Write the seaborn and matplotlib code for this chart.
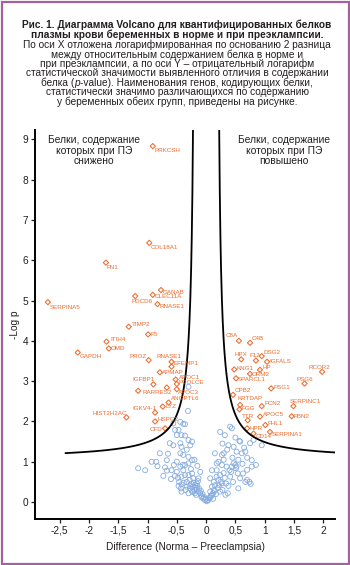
import numpy as np
import pandas as pd
import matplotlib
matplotlib.use('Agg')
import matplotlib.pyplot as plt
import seaborn as sns
from matplotlib.patches import Rectangle

# --- data ---
sig_genes = ['PRKCSH', 'COL18A1', 'FN1', 'GANAB', 'CLEC11A', 'PDCD6', 'RNASE1',
             'SERPINA5', 'TIMP2', 'F5', 'ITIH4', 'OMD', 'GAPDH', 'PROZ', 'RNASE1',
             'EFEMP1', 'APMAP', 'APOC1', 'PCOLCE', 'IGFBP1', '', 'RARRES2', 'APOC3',
             'ANGPTL6', 'LYZ', 'IGKV4-1', 'HIST2H2AC', 'HSPG2', 'CFD',
             'C8A', 'C4B', 'DSG2', 'HPX', 'F12', 'IGFALS', 'KNG1', 'HP', 'ORM2',
             'SPARCL1', 'RCOR2', 'PSG6', 'PSG1', 'CPB2', 'KRTDAP', 'FCN2', 'SERPINC1',
             'FGG', 'APOC5', 'FBN2', 'TTR', 'FHL1', 'HPR', 'SERPINA1', 'CD14']
sig_x = [-0.91, -0.97, -1.71, -0.77, -0.91, -1.21, -0.83,
         -2.70, -1.32, -0.99, -1.70, -1.66, -2.19, -0.98, -0.59,
         -0.59, -0.79, -0.52, -0.50, -0.90, -1.16, -0.67, -0.50,
         -0.64, -0.74, -0.87, -1.36, -0.87, -0.70,
         0.56, 0.75, 0.95, 0.60, 0.85, 1.04, 0.48, 0.92, 0.75,
         0.51, 1.98, 1.68, 1.11, 0.46, 0.58, 0.95, 1.49,
         0.57, 0.92, 1.46, 0.71, 1.01, 0.70, 1.09, 0.81]
sig_y = [8.83, 6.43, 5.94, 5.26, 5.14, 5.11, 4.91,
         4.96, 4.35, 4.16, 3.98, 3.81, 3.71, 3.52, 3.48,
         3.36, 3.22, 3.04, 2.93, 2.92, 2.76, 2.84, 2.80,
         2.47, 2.37, 2.22, 2.10, 2.00, 1.83,
         4.00, 3.95, 3.62, 3.54, 3.51, 3.48, 3.29, 3.28, 3.18,
         3.07, 3.23, 2.94, 2.82, 2.66, 2.41, 2.38, 2.38,
         2.30, 2.12, 2.13, 2.03, 1.91, 1.83, 1.74, 1.70]

bg_x = [-1.16, -1.04, -0.85, -0.83, -0.73, -0.67, -0.59, -0.55, -0.53, -0.60,
        -0.44, -0.40, -0.36, -0.30, -0.42, -0.46, -0.42, -0.43, -0.42, -0.33,
        -0.30, -0.24, -0.22, -0.33, -0.27, -0.23, -0.19, -0.16, -0.13, -0.10,
        -0.07, -0.05, -0.02, 0.01, 0.04, 0.07, 0.10, 0.07, 0.13, 0.10,
        0.13, 0.15, 0.18, 0.21, 0.24, 0.27, 0.24, 0.18, 0.21, 0.27,
        0.35, 0.34, 0.37, 0.41, 0.46, 0.50, 0.51, 0.54, 0.55, 0.58,
        0.63, 0.67, 0.70, 0.74, 0.76, 0.78, 0.47, 0.40, 0.07, 0.10,
        0.18, -0.10, -0.13, -0.16, -0.24, -0.19, -0.30, -0.36, -0.39, -0.70,
        -0.50, -0.44, -0.39, -0.47, -0.42, -0.50, -0.62, -0.56, -0.44, -0.42,
        -0.30, -0.27, -0.24, -0.44, -0.39, -0.79, -0.67, -0.30, -0.24, 0.24,
        0.32, 0.41, 0.44, 0.38, 0.30, 0.27, 0.47, 0.52, 0.58, 0.61,
        0.67, 0.75, 0.81, 0.95, 0.78, 0.52, 0.15, 0.44, -0.30, -0.31,
        -0.36, -0.56, -0.53, 0.57, -0.93, -0.20, -0.18, -0.15, -0.12, -0.09,
        -0.06, -0.03, 0.00, 0.02, 0.05, 0.08, 0.12, 0.15, 0.20, 0.22,
        0.25, -0.25, -0.28, -0.21, 0.28, 0.32, 0.38, 0.43, -0.48, -0.38,
        -0.35, 0.30, -0.20, -0.15, -0.26, 0.55, 0.62, 0.70, -0.22, -0.17,
        -0.08, 0.12, 0.17, -0.28, -0.14, 0.30, 0.33, -0.47, -0.50, 0.45,
        0.36, -0.33, -0.36, 0.28, 0.50, 0.65, -0.65, 0.85, 0.70]
bg_y = [0.84, 0.79, 1.00, 0.89, 0.65, 0.78, 0.79, 0.92, 0.65, 0.57,
        0.88, 0.92, 0.92, 0.96, 0.63, 0.50, 0.44, 0.34, 0.26, 0.50,
        0.67, 0.71, 0.59, 0.38, 0.34, 0.38, 0.42, 0.31, 0.26, 0.22,
        0.15, 0.09, 0.05, 0.02, 0.05, 0.11, 0.17, 0.26, 0.30, 0.38,
        0.50, 0.42, 0.63, 0.55, 0.67, 0.46, 0.26, 0.96, 1.00, 0.92,
        0.88, 0.46, 0.22, 0.63, 0.50, 0.92, 0.84, 0.71, 0.34, 0.59,
        0.71, 0.50, 0.55, 0.50, 0.45, 0.88, 0.96, 0.79, 0.59, 0.79,
        0.79, 0.75, 0.59, 0.46, 0.26, 0.22, 0.22, 0.67, 0.79, 0.86,
        1.00, 1.99, 1.94, 1.79, 1.66, 1.66, 1.46, 1.41, 1.46, 1.37,
        1.54, 1.41, 1.50, 1.21, 1.17, 1.21, 1.04, 1.12, 1.04, 1.74,
        1.66, 1.87, 1.83, 1.41, 1.21, 1.17, 1.37, 1.25, 1.50, 1.21,
        1.25, 1.46, 1.54, 1.41, 1.04, 0.88, 1.21, 0.88, 2.86, 2.26,
        1.93, 1.95, 1.79, 1.52, 1.00, 0.30, 0.36, 0.40, 0.33, 0.28,
        0.20, 0.12, 0.08, 0.04, 0.10, 0.16, 0.22, 0.28, 0.35, 0.42,
        0.50, 0.45, 0.55, 0.48, 0.30, 0.60, 0.40, 0.75, 0.60, 0.48,
        0.30, 1.05, 1.05, 0.90, 0.82, 1.05, 0.95, 0.80, 0.25, 0.18,
        0.12, 0.08, 0.20, 0.40, 0.52, 0.72, 0.18, 0.40, 0.75, 1.10,
        1.30, 1.30, 1.65, 1.45, 1.60, 1.35, 1.20, 0.92, 1.10]

x_ticks = [-2.5, -2, -1.5, -1, -0.5, 0, 0.5, 1, 1.5, 2]
y_ticks = list(range(10))

# threshold curve parameters: y = y0 + c / (|x| - x0)
curve_x0, curve_c, curve_y0 = 0.18, 0.356, 1.054

# label placement (offset in pixels, alignment), same order as sig_genes
label_pos = [(1.5, -4, 'left'), (1.5, -4.5, 'left'), (1, -4.5, 'left'), (2, -2, 'left'),
             (2, -2, 'left'), (-4, -5.5, 'left'), (2, -2, 'left'), (2, -5, 'left'),
             (3, 2.5, 'left'), (2, 0, 'left'), (4, 2, 'left'), (2, 0, 'left'),
             (1.5, -3.5, 'left'), (-2, 4, 'right'), (-3, 5, 'center'), (2, 3, 'left'),
             (2, 0, 'left'), (3, 2, 'left'), (2, 1, 'left'), (1, 4.5, 'right'),
             (0, 0, 'left'), (5, -5, 'right'), (1, -3.5, 'left'), (2.5, 4, 'left'),
             (3, 0, 'left'), (1, 4.5, 'right'), (0, 4, 'right'), (2, 2, 'left'),
             (-3, -1.5, 'right'),
             (-1.5, 5, 'right'), (2, 4, 'left'), (2, 4, 'left'), (0, 4.5, 'center'),
             (-1, 5.5, 'center'), (2, 0, 'left'), (2, 1, 'left'), (2.5, 2, 'left'),
             (2, -0.5, 'left'), (2, -1, 'left'), (-3, 4.5, 'center'), (0, 4, 'center'),
             (2, 0.5, 'left'), (2, 4, 'left'), (-3, 6, 'left'), (2.5, 2.5, 'left'),
             (-4, 5, 'left'), (2.5, 0.5, 'left'), (2.5, 2.5, 'left'), (2, -0.5, 'left'),
             (0, 4, 'center'), (2, 2, 'left'), (2, 0, 'left'), (2, -3, 'left'),
             (2, -2.5, 'left')]

# caption: each line is a list of (text, weight, style) pieces
title_lines = [
    [("Рис. 1. Диаграмма Volcano для квантифицированных белков", 'bold', 'normal')],
    [("плазмы крови беременных в норме и при преэклампсии.", 'bold', 'normal')],
    [("По оси X отложена логарифмированная по основанию 2 разница", 'normal', 'normal')],
    [("между относительным содержанием белка в норме и", 'normal', 'normal')],
    [("при преэклампсии, а по оси Y – отрицательный логарифм", 'normal', 'normal')],
    [("статистической значимости выявленного отличия в содержании", 'normal', 'normal')],
    [("белка (", 'normal', 'normal'), ("p", 'normal', 'italic'),
     ("-value). Наименования генов, кодирующих белки,", 'normal', 'normal')],
    [("статистически значимо различающихся по содержанию", 'normal', 'normal')],
    [("у беременных обеих групп, приведены на рисунке.", 'normal', 'normal')],
]
title_y_px = [25, 35, 45, 54.5, 64, 73.5, 83, 92, 101.5]

ORANGE = '#ef6a2b'
BLUE = '#86acdf'
INK = '#231f20'
PURPLE = '#a4609f'

sns.set_style('ticks')
plt.rcParams['font.family'] = ['Liberation Sans', 'DejaVu Sans']

W, H = 350, 565
fig = plt.figure(figsize=(W / 100, H / 100), dpi=100)
fig.patch.set_facecolor('white')
ax = fig.add_axes([35 / W, 1 - 519 / H, 300 / W, 389 / H])

bg = pd.DataFrame({'x': bg_x, 'y': bg_y})
sig = pd.DataFrame({'x': sig_x, 'y': sig_y, 'gene': sig_genes})

sns.scatterplot(data=bg, x='x', y='y', ax=ax, marker='o', s=13, linewidth=0.6,
                color=BLUE, legend=False, zorder=2)
ax.collections[-1].set_facecolor('none')
ax.collections[-1].set_edgecolor(BLUE)
sns.scatterplot(data=sig, x='x', y='y', ax=ax, marker='D', s=7, linewidth=0.75,
                color=ORANGE, legend=False, zorder=3)
ax.collections[-1].set_facecolor('none')
ax.collections[-1].set_edgecolor(ORANGE)

# threshold curves
top = 9.4
xr = np.linspace(curve_x0 + curve_c / (top - curve_y0), 2.4, 600)
yr = curve_y0 + curve_c / (xr - curve_x0)
curves = pd.DataFrame({'x': np.concatenate([xr, -xr]), 'y': np.concatenate([yr, yr]),
                       'side': ['r'] * len(xr) + ['l'] * len(xr)})
sns.lineplot(data=curves, x='x', y='y', units='side', estimator=None, sort=False,
             color='black', linewidth=1.3, ax=ax, zorder=4)

for g, xv, yv, (dx, dy, ha) in zip(sig_genes, sig_x, sig_y, label_pos):
    if not g:
        continue
    ax.annotate(g, (xv, yv), xytext=(dx, dy), textcoords='offset pixels',
                ha=ha, va='center', fontsize=4.5, color=ORANGE, zorder=5)

ax.text(-1.91, 8.72, "Белки, содержание\nкоторых при ПЭ\nснижено", ha='center',
        va='center', fontsize=7.4, color=INK, linespacing=1.05)
ax.text(1.33, 8.72, "Белки, содержание\nкоторых при ПЭ\nповышено", ha='center',
        va='center', fontsize=7.4, color=INK, linespacing=1.05)

ax.set_xlim(-2.92, 2.2)
ax.set_ylim(-0.42, 9.23)
ax.set_xticks(x_ticks)
ax.set_xticklabels([f"{v:g}".replace('.', ',') for v in x_ticks])
ax.set_yticks(y_ticks)
ax.set_xlabel("Difference (Norma – Preeclampsia)", fontsize=7.3, color=INK, labelpad=4)
ax.set_ylabel("-Log p", fontsize=7.3, color=INK, labelpad=2)
ax.tick_params(labelsize=7.3, colors=INK, length=3, width=0.9, pad=2)
sns.despine(ax=ax)
for s in ['left', 'bottom']:
    ax.spines[s].set_linewidth(1.4)
    ax.spines[s].set_color('black')

# caption, centred line by line (pieces measured so the italic "p" sits inline)
renderer = fig.canvas.get_renderer()
for pieces, ypx in zip(title_lines, title_y_px):
    arts, widths = [], []
    for txt, wt, st in pieces:
        t = fig.text(0, 1 - ypx / H, txt, ha='left', va='center', fontsize=7.3,
                     fontweight=wt, fontstyle=st, color=INK)
        arts.append(t)
        widths.append(t.get_window_extent(renderer).width)
    x0 = 177 - sum(widths) / 2
    for t, w in zip(arts, widths):
        t.set_x(x0 / W)
        x0 += w

fig.patches.append(Rectangle((1.5 / W, 1.5 / H), 1 - 3 / W, 1 - 3 / H, transform=fig.transFigure,
                             fill=False, edgecolor=PURPLE, linewidth=1.6))

fig.savefig('out.png', dpi=100)
